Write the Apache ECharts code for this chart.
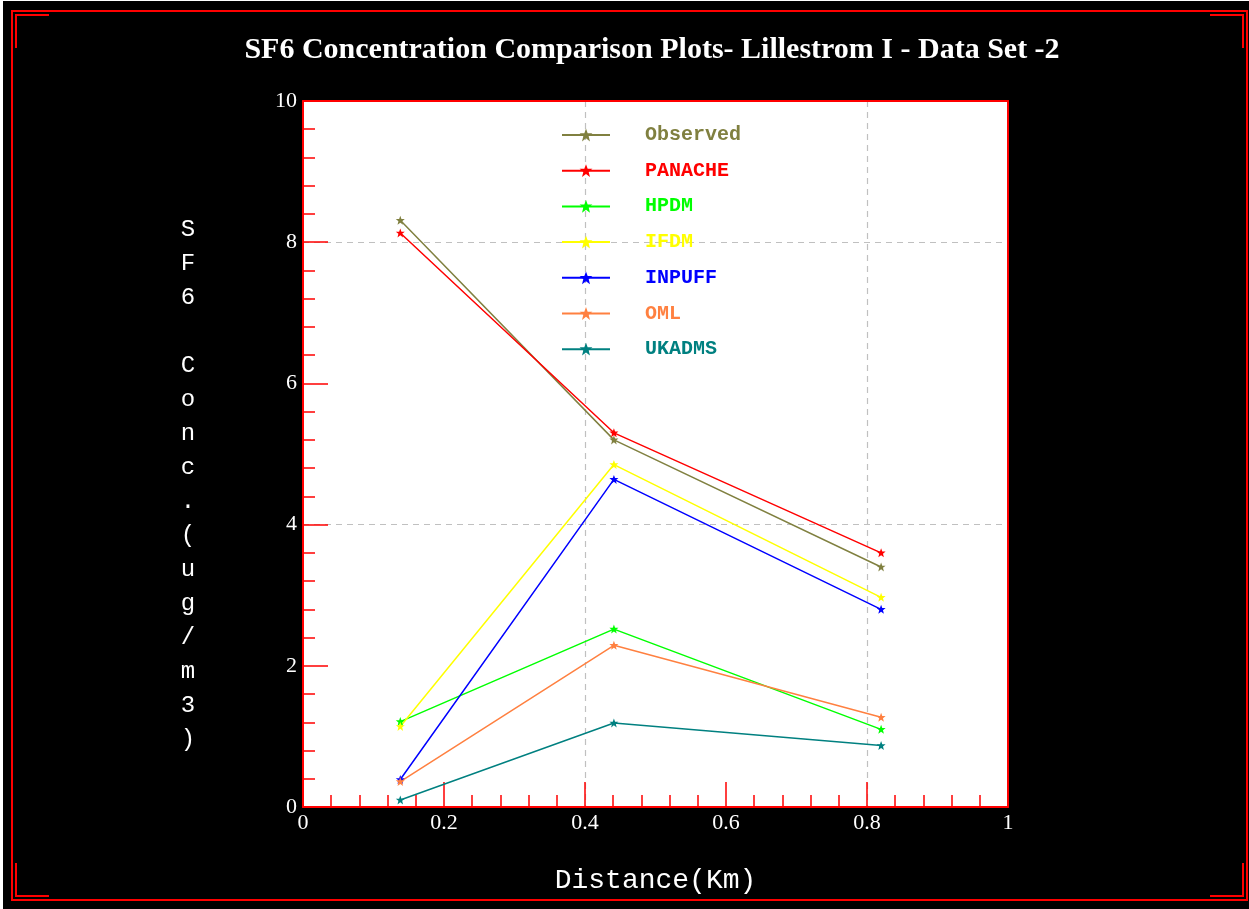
<!DOCTYPE html>
<html>
<head>
<meta charset="utf-8">
<script src="https://cdn.jsdelivr.net/npm/echarts@6/dist/echarts.min.js"></script>
<style>
html,body{margin:0;padding:0;background:#000;}
#chart{width:1249px;height:909px;}
</style>
</head>
<body>
<div id="chart"></div>
<script>
// ---- data ----
const distances = [0.138, 0.441, 0.82];
const seriesNames = ['Observed', 'PANACHE', 'HPDM', 'IFDM', 'INPUFF', 'OML', 'UKADMS'];
const observed = [8.31, 5.20, 3.40];
const panache  = [8.13, 5.30, 3.60];
const hpdm     = [1.21, 2.52, 1.10];
const ifdm     = [1.14, 4.85, 2.97];
const inpuff   = [0.39, 4.64, 2.80];
const oml      = [0.36, 2.29, 1.27];
const ukadms   = [0.10, 1.19, 0.87];
const seriesColors = ['#808040', '#ff0000', '#00ff00', '#ffff00', '#0000ff', '#ff8040', '#008080'];
const xTickLabels = ['0', '0.2', '0.4', '0.6', '0.8', '1'];
const yTickLabels = ['0', '2', '4', '6', '8', '10'];
const titleText = 'SF6 Concentration Comparison Plots- Lillestrom I - Data Set -2';
const xName = 'Distance(Km)';
const yNameChars = ['S','F','6',' ','C','o','n','c','.','(','u','g','/','m','3',')'];

const allValues = [observed, panache, hpdm, ifdm, inpuff, oml, ukadms];
const starPath = 'path://M0,-5 L1.3,-1.6 L5,-1.6 L2.1,0.7 L3.1,4.6 L0,2.3 L-3.1,4.6 L-2.1,0.7 L-5,-1.6 L-1.3,-1.6 Z';

const chart = echarts.init(document.getElementById('chart'));

const series = seriesNames.map((name, i) => ({
  name: name,
  type: 'line',
  xAxisIndex: 0,
  yAxisIndex: 0,
  data: distances.map((d, j) => [d, allValues[i][j]]),
  symbol: starPath,
  symbolSize: 9,
  showAllSymbol: true,
  lineStyle: { color: seriesColors[i], width: 1.5 },
  itemStyle: { color: seriesColors[i] },
  emphasis: { disabled: true },
  animation: false
}));

const yStack = yNameChars.join('\n');

const redLine = { stroke: '#ff0000', lineWidth: 2, fill: 'none' };

const option = {
  backgroundColor: '#000',
  animation: false,
  title: {
    text: titleText,
    left: 647,
    top: 30,
    textAlign: 'center',
    textStyle: { color: '#fff', fontFamily: 'Liberation Serif', fontWeight: 'bold', fontSize: 30 }
  },
  legend: {
    orient: 'vertical',
    left: 561,
    top: 125,
    padding: 0,
    itemWidth: 48,
    itemHeight: 16,
    itemGap: 15.7,
    selectedMode: false,
    data: seriesNames.map((n, i) => ({ name: n, textStyle: { color: seriesColors[i] } })),
    textStyle: { fontFamily: 'Liberation Mono', fontWeight: 'bold', fontSize: 20, lineHeight: 16, padding: [0, 0, 0, 30] }
  },
  grid: {
    left: 303, top: 101, right: 241, bottom: 102,
    show: true, backgroundColor: '#fff', borderWidth: 0
  },
  xAxis: [{
    type: 'value', position: 'bottom', min: 0, max: 1, interval: 0.2,
    name: xName, nameLocation: 'middle', nameGap: 60,
    nameTextStyle: { color: '#fff', fontFamily: 'Liberation Mono', fontSize: 28 },
    axisLine: { show: true, onZero: false, lineStyle: { color: '#ff0000', width: 2 } },
    axisTick: { show: true, inside: true, length: 25, lineStyle: { color: '#ff0000', width: 1.5 } },
    minorTick: { show: true, splitNumber: 5, length: 12, lineStyle: { color: '#ff0000', width: 1.5 } },
    splitLine: { show: false },
    axisLabel: {
      color: '#fff', fontFamily: 'Liberation Serif', fontSize: 22, margin: 5,
      formatter: (v) => xTickLabels[Math.round(v / 0.2)]
    }
  }, {
    type: 'value', position: 'top', min: 0, max: 1, interval: 0.4,
    axisLine: { show: true, onZero: false, lineStyle: { color: '#ff0000', width: 2 } },
    axisTick: { show: false }, axisLabel: { show: false },
    splitLine: { show: true, showMinLine: false, showMaxLine: false, lineStyle: { color: '#c0c0c0', type: [6, 5], width: 1.2 } }
  }],
  yAxis: [{
    type: 'value', position: 'left', min: 0, max: 10, interval: 2,
    axisLine: { show: true, onZero: false, lineStyle: { color: '#ff0000', width: 2 } },
    axisTick: { show: true, inside: true, length: 25, lineStyle: { color: '#ff0000', width: 1.5 } },
    minorTick: { show: true, splitNumber: 5, length: 12, lineStyle: { color: '#ff0000', width: 1.5 } },
    splitLine: { show: false },
    axisLabel: {
      color: '#fff', fontFamily: 'Liberation Serif', fontSize: 22, margin: 6,
      formatter: (v) => yTickLabels[Math.round(v / 2)]
    }
  }, {
    type: 'value', position: 'right', min: 0, max: 10, interval: 4,
    axisLine: { show: true, onZero: false, lineStyle: { color: '#ff0000', width: 2 } },
    axisTick: { show: false }, axisLabel: { show: false },
    splitLine: { show: true, showMinLine: false, showMaxLine: false, lineStyle: { color: '#c0c0c0', type: [6, 5], width: 1.2 } }
  }],
  graphic: [
    { type: 'rect', shape: { x: 0, y: 0, width: 1249, height: 1 }, style: { fill: '#fff' }, silent: true },
    { type: 'rect', shape: { x: 0, y: 0, width: 3, height: 909 }, style: { fill: '#fff' }, silent: true },
    { type: 'rect', shape: { x: 12, y: 11, width: 1235, height: 889 }, style: redLine, silent: true },
    { type: 'polyline', shape: { points: [[16, 48], [16, 15], [49, 15]] }, style: redLine, silent: true },
    { type: 'polyline', shape: { points: [[1210, 15], [1243, 15], [1243, 48]] }, style: redLine, silent: true },
    { type: 'polyline', shape: { points: [[16, 863], [16, 896], [49, 896]] }, style: redLine, silent: true },
    { type: 'polyline', shape: { points: [[1210, 896], [1243, 896], [1243, 863]] }, style: redLine, silent: true },
    { type: 'text', x: 188, y: 213, silent: true,
      style: { text: yStack, fill: '#fff', font: '24px "Liberation Mono"', lineHeight: 34, align: 'center', verticalAlign: 'top' } }
  ],
  series: series
};

chart.setOption(option);
</script>
</body>
</html>
